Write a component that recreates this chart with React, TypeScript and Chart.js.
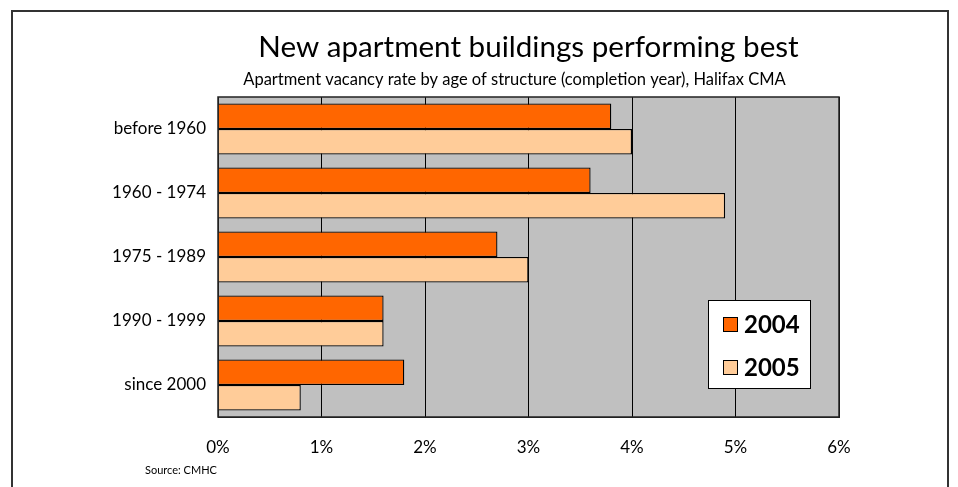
import React, { useEffect, useRef } from "react";
import { Chart, registerables } from "chart.js";

Chart.register(...registerables);

const categories = ["before 1960", "1960 - 1974", "1975 - 1989", "1990 - 1999", "since 2000"];
const series2004 = [3.8, 3.6, 2.7, 1.6, 1.8];
const series2005 = [4.0, 4.9, 3.0, 1.6, 0.8];
const seriesLabels = ["2004", "2005"];
const seriesColors = ["#FF6600", "#FFCC99"];
const titleText = "New apartment buildings performing best";
const subtitleText = "Apartment vacancy rate by age of structure (completion year), Halifax CMA";
const sourceText = "Source: CMHC";

const FONT = "Lato, 'Open Sans', sans-serif";

const decorPlugin = {
  id: "decor",
  beforeDraw(chart: any) {
    const { ctx, chartArea } = chart;
    ctx.save();
    ctx.fillStyle = "#ffffff";
    ctx.fillRect(0, 0, chart.width, chart.height);
    ctx.fillStyle = "#C0C0C0";
    ctx.fillRect(chartArea.left, chartArea.top, chartArea.right - chartArea.left, chartArea.bottom - chartArea.top);
    ctx.restore();
  },
  afterDraw(chart: any) {
    const { ctx, chartArea } = chart;
    ctx.save();
    // plot border
    ctx.strokeStyle = "#222";
    ctx.lineWidth = 1.5;
    ctx.strokeRect(chartArea.left, chartArea.top, chartArea.right - chartArea.left, chartArea.bottom - chartArea.top);
    // outer frame
    ctx.strokeStyle = "#333";
    ctx.lineWidth = 2;
    ctx.strokeRect(4, 3, chart.width - 8, chart.height + 20);
    // title
    const cx = (chartArea.left + chartArea.right) / 2;
    ctx.fillStyle = "#000";
    ctx.textAlign = "center";
    ctx.textBaseline = "middle";
    ctx.font = `29.6px ${FONT}`;
    ctx.fillText(titleText, cx, 39);
    ctx.font = `16.5px ${FONT}`;
    ctx.fillText(subtitleText, cx - 14, 72);
    // source
    ctx.textAlign = "left";
    ctx.font = `11px ${FONT}`;
    ctx.fillText(sourceText, 137, 462);
    // legend
    const lx = 700, ly = 292, lw = 102, lh = 88;
    ctx.fillStyle = "#fff";
    ctx.fillRect(lx, ly, lw, lh);
    ctx.strokeStyle = "#000";
    ctx.lineWidth = 1;
    ctx.strokeRect(lx + 0.5, ly + 0.5, lw, lh);
    const rows = [316, 359];
    ctx.font = `bold 24px ${FONT}`;
    seriesLabels.forEach((lab, i) => {
      const y = rows[i];
      ctx.fillStyle = seriesColors[i];
      ctx.fillRect(715, y - 7, 14, 14);
      ctx.strokeStyle = "#000";
      ctx.strokeRect(715.5, y - 6.5, 14, 14);
      ctx.fillStyle = "#000";
      ctx.textAlign = "left";
      ctx.textBaseline = "middle";
      ctx.fillText(lab, 736, y + 1);
    });
    ctx.restore();
  },
};

export default function App() {
  const ref = useRef<HTMLCanvasElement | null>(null);
  useEffect(() => {
    if (!ref.current) return;
    const chart = new Chart(ref.current, {
      type: "bar",
      data: {
        labels: categories,
        datasets: [
          {
            label: seriesLabels[0],
            data: series2004,
            backgroundColor: seriesColors[0],
            borderColor: "#000",
            borderWidth: 1.3,
            categoryPercentage: 0.8,
            barPercentage: 1.0,
          },
          {
            label: seriesLabels[1],
            data: series2005,
            backgroundColor: seriesColors[1],
            borderColor: "#000",
            borderWidth: 1.3,
            categoryPercentage: 0.8,
            barPercentage: 1.0,
          },
        ],
      },
      options: {
        indexAxis: "y",
        animation: false,
        responsive: false,
        maintainAspectRatio: false,
        layout: { padding: { left: 0, right: 113, top: 89, bottom: 0 } },
        plugins: {
          legend: { display: false },
          title: { display: false },
          tooltip: { enabled: false },
        },
        scales: {
          x: {
            min: 0,
            max: 6,
            ticks: {
              stepSize: 1,
              padding: 20,
              color: "#000",
              font: { family: FONT, size: 17 },
              callback: (v: any) => v + "%",
            },
            grid: { color: "#000", lineWidth: 1, drawTicks: false },
            border: { display: true, color: "#222" },
            afterFit: (s: any) => {
              s.height = 70;
            },
          },
          y: {
            ticks: {
              padding: 12,
              color: "#000",
              font: { family: FONT, size: 17 },
            },
            grid: { display: false, drawTicks: false },
            border: { display: true, color: "#222" },
            afterFit: (s: any) => {
              s.width = 210;
            },
          },
        },
      },
      plugins: [decorPlugin],
    });
    return () => chart.destroy();
  }, []);
  return (
    <div style={{ width: 944, height: 479 }}>
      <canvas ref={ref} width={944} height={479} style={{ display: "block" }} />
    </div>
  );
}
